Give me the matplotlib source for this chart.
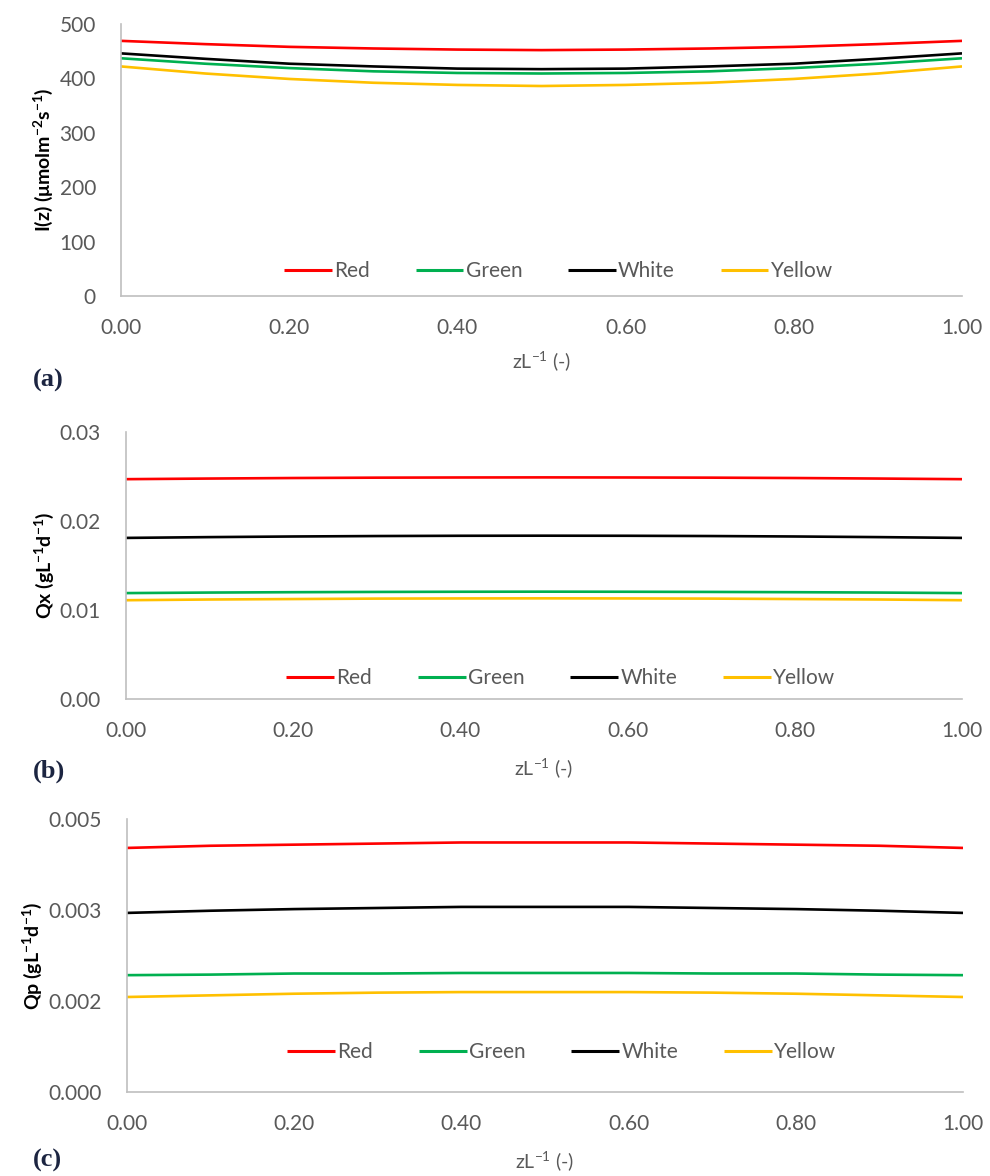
import matplotlib
matplotlib.use("Agg")
import matplotlib.pyplot as plt
from matplotlib.ticker import FormatStrFormatter, FixedLocator

plt.rcParams['font.family'] = ['Lato', 'DejaVu Sans']
plt.rcParams['mathtext.fontset'] = 'custom'
plt.rcParams['mathtext.rm'] = 'Lato'
plt.rcParams['mathtext.bf'] = 'Lato:bold'
plt.rcParams['mathtext.it'] = 'Lato:italic'

# ---- data ----
z = [0.0, 0.1, 0.2, 0.3, 0.4, 0.5, 0.6, 0.7, 0.8, 0.9, 1.0]
series_names = ["Red", "Green", "White", "Yellow"]
series_colors = ["#FF0000", "#00B050", "#000000", "#FFC000"]

I_red = [469, 463, 458, 455, 453, 452, 453, 455, 458, 463, 469]
I_green = [437, 427, 419, 413, 410, 409, 410, 413, 419, 427, 437]
I_white = [446, 436, 427, 422, 418, 417, 418, 422, 427, 436, 446]
I_yellow = [422, 409, 399, 392, 388, 386, 388, 392, 399, 409, 422]

Qx_red = [0.0247, 0.02477, 0.02483, 0.02487, 0.02489, 0.0249, 0.02489, 0.02487, 0.02483, 0.02477, 0.0247]
Qx_green = [0.0119, 0.01196, 0.0120, 0.01203, 0.01205, 0.01206, 0.01205, 0.01203, 0.0120, 0.01196, 0.0119]
Qx_white = [0.0181, 0.01819, 0.01826, 0.01831, 0.01834, 0.01835, 0.01834, 0.01831, 0.01826, 0.01819, 0.0181]
Qx_yellow = [0.0111, 0.01118, 0.01123, 0.01128, 0.0113, 0.01131, 0.0113, 0.01128, 0.01123, 0.01118, 0.0111]

Qp_red = [0.00447, 0.00451, 0.00453, 0.00455, 0.00457, 0.00457, 0.00457, 0.00455, 0.00453, 0.00451, 0.00447]
Qp_green = [0.00214, 0.00215, 0.00217, 0.00217, 0.00218, 0.00218, 0.00218, 0.00217, 0.00217, 0.00215, 0.00214]
Qp_white = [0.00328, 0.00332, 0.00335, 0.00337, 0.00339, 0.00339, 0.00339, 0.00337, 0.00335, 0.00332, 0.00328]
Qp_yellow = [0.00174, 0.00177, 0.0018, 0.00182, 0.00183, 0.00183, 0.00183, 0.00182, 0.0018, 0.00177, 0.00174]

x_ticks = [0.0, 0.2, 0.4, 0.6, 0.8, 1.0]
yticks_a = [0, 100, 200, 300, 400, 500]
yticks_b = [0.0, 0.01, 0.02, 0.03]
yticks_c = [0.0, 0.005 / 3, 0.01 / 3, 0.005]

W, H = 990, 1176
fig = plt.figure(figsize=(W / 100, H / 100), dpi=100)

def rect(l, r, t, b):
    return [l / W, 1 - b / H, (r - l) / W, (b - t) / H]

panels = [
    dict(rect=rect(121, 962, 24, 296), data=[I_red, I_green, I_white, I_yellow],
         ylim=(0, 500), yticks=yticks_a, fmt='%d',
         ylabel=r'I(z) (μmolm$^{\mathbf{-2}}$s$^{\mathbf{-1}}$)', leg_y=271, tag='(a)', tag_y=380, xl_y=361),
    dict(rect=rect(126, 962, 432, 699), data=[Qx_red, Qx_green, Qx_white, Qx_yellow],
         ylim=(0, 0.03), yticks=yticks_b, fmt='%.2f',
         ylabel=r'Qx (gL$^{\mathbf{-1}}$d$^{\mathbf{-1}}$)', leg_y=678, tag='(b)', tag_y=771, xl_y=768),
    dict(rect=rect(127, 963, 819, 1092), data=[Qp_red, Qp_green, Qp_white, Qp_yellow],
         ylim=(0, 0.005), yticks=yticks_c, fmt='%.3f',
         ylabel=r'Qp (gL$^{\mathbf{-1}}$d$^{\mathbf{-1}}$)', leg_y=1052, tag='(c)', tag_y=1160, xl_y=1161),
]

gray = '#595959'
spine = '#BFBFBF'
fs = 15

for p in panels:
    ax = fig.add_axes(p['rect'])
    for vals, name, col in zip(p['data'], series_names, series_colors):
        ax.plot(z, vals, color=col, lw=1.9, label=name, solid_capstyle='butt')
    ax.set_xlim(0, 1)
    ax.set_ylim(*p['ylim'])
    ax.xaxis.set_major_locator(FixedLocator(x_ticks))
    ax.yaxis.set_major_locator(FixedLocator(p['yticks']))
    ax.xaxis.set_major_formatter(FormatStrFormatter('%.2f'))
    ax.yaxis.set_major_formatter(FormatStrFormatter(p['fmt']))
    for s in ['top', 'right']:
        ax.spines[s].set_visible(False)
    for s in ['left', 'bottom']:
        ax.spines[s].set_color(spine)
        ax.spines[s].set_linewidth(1.2)
    ax.tick_params(axis='both', length=0, labelsize=fs, labelcolor=gray)
    ax.tick_params(axis='y', pad=18)
    ax.tick_params(axis='x', pad=16)
    ax.set_ylabel(p['ylabel'], fontsize=14, fontweight='bold', color='black', labelpad=3)
    l, b, w, h = p['rect']
    fig.text(l + w / 2, 1 - p['xl_y'] / H, r'zL$^{-1}$ (-)', ha='center', va='center',
             fontsize=14, color=gray)
    y_ax = (H * (1 - b) - p['leg_y']) / (h * H)
    leg = ax.legend(ncol=4, loc='center', bbox_to_anchor=(0.52, y_ax), frameon=False,
                    fontsize=fs, handlelength=2.3, handletextpad=0.1, columnspacing=2.2,
                    labelcolor=gray)
    for line in leg.get_lines():
        line.set_linewidth(2.2)
    fig.text(33 / W, 1 - p['tag_y'] / H, p['tag'], fontsize=19, fontweight='bold',
             family='Liberation Serif', color='#1C2541', va='center', ha='left')

fig.savefig('out.png', dpi=100)
